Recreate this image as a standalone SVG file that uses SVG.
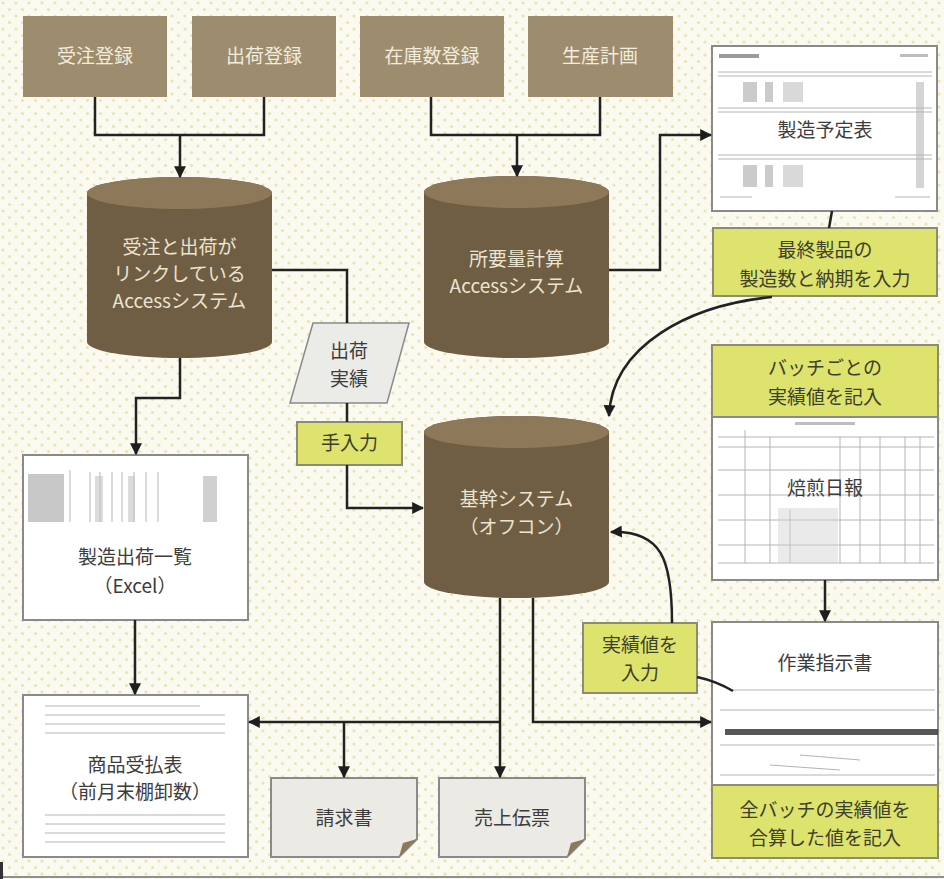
<svg xmlns="http://www.w3.org/2000/svg" width="944" height="879" viewBox="0 0 944 879">
<defs>
<pattern id="dots" x="0" y="0" width="13" height="13" patternUnits="userSpaceOnUse">
<rect width="13" height="13" fill="#fbfaf0"/>
<circle cx="3" cy="3" r="1.6" fill="#e9e5b2"/>
<circle cx="9.5" cy="9.5" r="1.6" fill="#e9e5b2"/>
</pattern>
<marker id="ah" viewBox="0 0 10 10" refX="9" refY="5" markerWidth="12" markerHeight="12" markerUnits="userSpaceOnUse" orient="auto">
<path d="M0,0 L10,5 L0,10 z" fill="#1e1e1e"/>
</marker>
<style>
.t{font-family:"Noto Sans CJK JP","Noto Sans",sans-serif;font-size:19px;text-anchor:middle}
.tb{fill:#9e8c6f}
.tbt{fill:#f2ecdc}
.cyl{fill:#6f5e43}
.cyltop{fill:#8d7959}
.cylt{fill:#ece4d0}
.doc{fill:#ffffff;stroke:#8a8a8a;stroke-width:2}
.doct{fill:#3c3c3c}
.yel{fill:#dde36c;stroke:#8c8c74;stroke-width:2}
.yelt{fill:#3e402c}
.gray{fill:#eceae5;stroke:#8a8a8a;stroke-width:2}
.c{fill:none;stroke:#222;stroke-width:2.5}
.ca{fill:none;stroke:#222;stroke-width:2.5;marker-end:url(#ah)}
.tl{stroke:#b4b4b4;stroke-width:1;fill:none}
.tk{fill:#bdbdbd}
</style>
</defs>
<rect x="0" y="0" width="944" height="879" fill="url(#dots)"/>
<line x1="0" y1="877" x2="944" y2="877" stroke="#8f8f8f" stroke-width="2"/>
<rect x="0" y="862" width="3" height="17" fill="#333"/>

<g id="juchu-toroku"><rect class="tb" x="23" y="16" width="144" height="81"/><text class="t tbt" x="95" y="63">受注登録</text></g>
<g id="shukka-toroku"><rect class="tb" x="192" y="16" width="144" height="81"/><text class="t tbt" x="264" y="63">出荷登録</text></g>
<g id="zaiko-toroku"><rect class="tb" x="360" y="16" width="144" height="81"/><text class="t tbt" x="432" y="63">在庫数登録</text></g>
<g id="seisan-keikaku"><rect class="tb" x="528" y="16" width="145" height="81"/><text class="t tbt" x="600" y="63">生産計画</text></g>

<g id="access1">
<path class="cyl" d="M87 193 A92.5 16 0 0 1 272 193 V342 A92.5 16 0 0 1 87 342 Z"/>
<ellipse class="cyltop" cx="179.5" cy="193" rx="92.5" ry="16"/>
<text class="t cylt" x="179.5" y="254">受注と出荷が</text>
<text class="t cylt" x="179.5" y="281">リンクしている</text>
<text class="t cylt" x="179.5" y="308">Accessシステム</text>
</g>
<g id="access2">
<path class="cyl" d="M424 192 A92.5 16 0 0 1 609 192 V342 A92.5 16 0 0 1 424 342 Z"/>
<ellipse class="cyltop" cx="516.5" cy="192" rx="92.5" ry="16"/>
<text class="t cylt" x="516.5" y="266">所要量計算</text>
<text class="t cylt" x="516.5" y="293">Accessシステム</text>
</g>
<g id="kikan">
<path class="cyl" d="M424 432 A92.5 16 0 0 1 609 432 V582 A92.5 16 0 0 1 424 582 Z"/>
<ellipse class="cyltop" cx="516.5" cy="432" rx="92.5" ry="16"/>
<text class="t cylt" x="516.5" y="506">基幹システム</text>
<text class="t cylt" x="516.5" y="534">（オフコン）</text>
</g>

<g id="shukka-jisseki">
<path d="M313 323 H409 L387 403 H290 Z" fill="#ebebe8" stroke="#8a8a8a" stroke-width="1.5"/>
<text class="t doct" x="349" y="358">出荷</text>
<text class="t doct" x="349" y="386">実績</text>
</g>
<g id="tenyuryoku">
<rect class="yel" x="297" y="422" width="105" height="43"/>
<text class="t yelt" x="349.5" y="450">手入力</text>
</g>

<g id="seizo-shukka-ichiran">
<rect class="doc" x="23" y="455" width="225" height="165"/>
<rect x="28" y="474" width="36" height="48" fill="#9a9a9a" opacity="0.55"/>
<g class="tl">
<line x1="70" y1="470" x2="70" y2="522"/><line x1="90" y1="472" x2="90" y2="522"/><line x1="100" y1="472" x2="100" y2="522"/>
<line x1="112" y1="472" x2="112" y2="522"/><line x1="122" y1="472" x2="122" y2="522"/><line x1="134" y1="472" x2="134" y2="522"/>
<line x1="146" y1="472" x2="146" y2="522"/><line x1="158" y1="472" x2="158" y2="522"/>
</g>
<rect x="95" y="476" width="8" height="46" fill="#c4c4c4" opacity="0.6"/>
<rect x="128" y="476" width="7" height="46" fill="#c4c4c4" opacity="0.6"/>
<rect x="203" y="476" width="14" height="46" fill="#b0b0b0" opacity="0.6"/>
<text class="t doct" x="135" y="564">製造出荷一覧</text>
<text class="t doct" x="135" y="593">（Excel）</text>
</g>

<g id="shohin-ukeharai">
<rect class="doc" x="23" y="695" width="225" height="162"/>
<g class="tl">
<line x1="45" y1="706" x2="200" y2="706"/><line x1="45" y1="715" x2="225" y2="715"/>
<line x1="45" y1="724" x2="225" y2="724"/><line x1="45" y1="733" x2="225" y2="733"/>
<line x1="45" y1="815" x2="225" y2="815"/><line x1="45" y1="824" x2="225" y2="824"/>
<line x1="45" y1="833" x2="225" y2="833"/><line x1="45" y1="842" x2="225" y2="842"/>
</g>
<text class="t doct" x="135" y="772">商品受払表</text>
<text class="t doct" x="135" y="799">（前月末棚卸数）</text>
</g>

<g id="seikyusho">
<path class="gray" d="M271 778 H417 V839 L399 857 H271 Z"/>
<path d="M417 839 L399 857 L403 843 Z" fill="#8d7959"/>
<text class="t doct" x="344" y="825">請求書</text>
</g>
<g id="uriage-denpyo">
<path class="gray" d="M439 778 H585 V839 L567 857 H439 Z"/>
<path d="M585 839 L567 857 L571 843 Z" fill="#8d7959"/>
<text class="t doct" x="512" y="825">売上伝票</text>
</g>

<g id="seizo-yoteihyo">
<rect class="doc" x="712" y="46" width="225" height="165"/>
<rect x="719" y="54" width="40" height="4" fill="#9a9a9a"/>
<rect x="900" y="54" width="28" height="3" fill="#bdbdbd"/>
<g class="tl">
<line x1="718" y1="72" x2="932" y2="72"/><line x1="718" y1="76" x2="932" y2="76"/>
<line x1="718" y1="108" x2="932" y2="108"/><line x1="718" y1="112" x2="932" y2="112"/>
<line x1="718" y1="155" x2="932" y2="155"/><line x1="718" y1="159" x2="932" y2="159"/>
<line x1="720" y1="197" x2="752" y2="197"/><line x1="895" y1="197" x2="930" y2="197"/>
</g>
<rect x="743" y="82" width="14" height="20" fill="#a8a8a8" opacity="0.6"/>
<rect x="765" y="82" width="8" height="20" fill="#a8a8a8" opacity="0.6"/>
<rect x="783" y="82" width="20" height="20" fill="#c0c0c0" opacity="0.6"/>
<rect x="743" y="165" width="14" height="22" fill="#a8a8a8" opacity="0.6"/>
<rect x="765" y="165" width="8" height="22" fill="#a8a8a8" opacity="0.6"/>
<rect x="783" y="165" width="20" height="22" fill="#c0c0c0" opacity="0.6"/>
<rect x="916" y="82" width="8" height="106" fill="#b8b8b8" opacity="0.6"/>
<text class="t doct" x="825" y="137" font-size="20">製造予定表</text>
</g>
<g id="saishu-seihin">
<rect class="yel" x="713" y="228" width="224" height="68"/>
<text class="t yelt" x="825" y="257">最終製品の</text>
<text class="t yelt" x="825" y="286">製造数と納期を入力</text>
</g>

<g id="batch-goto">
<rect class="yel" x="712" y="345" width="226" height="72"/>
<text class="t yelt" x="825" y="375">バッチごとの</text>
<text class="t yelt" x="825" y="404">実績値を記入</text>
</g>
<g id="baisen-nippo">
<rect class="doc" x="712" y="417" width="226" height="163"/>
<rect x="795" y="422" width="60" height="3" fill="#bdbdbd"/>
<g class="tl">
<line x1="718" y1="437" x2="934" y2="437"/><line x1="718" y1="447" x2="934" y2="447"/>
<line x1="718" y1="470" x2="934" y2="470"/><line x1="718" y1="495" x2="934" y2="495"/>
<line x1="718" y1="520" x2="934" y2="520"/><line x1="718" y1="545" x2="934" y2="545"/>
<line x1="718" y1="563" x2="934" y2="563"/>
<line x1="745" y1="430" x2="745" y2="563"/><line x1="770" y1="437" x2="770" y2="563"/>
<line x1="790" y1="510" x2="790" y2="563"/><line x1="840" y1="437" x2="840" y2="563"/>
<line x1="860" y1="437" x2="860" y2="563"/><line x1="880" y1="437" x2="880" y2="563"/>
<line x1="905" y1="437" x2="905" y2="563"/><line x1="920" y1="437" x2="920" y2="563"/>
</g>
<rect x="778" y="508" width="60" height="55" fill="#d0d0d0" opacity="0.45"/>
<text class="t doct" x="825" y="495" font-size="21">焙煎日報</text>
</g>

<g id="sagyo-shijisho">
<rect class="doc" x="712" y="622" width="226" height="163"/>
<g class="tl">
<line x1="730" y1="690" x2="935" y2="690"/><line x1="720" y1="710" x2="935" y2="710"/>
<line x1="720" y1="745" x2="935" y2="745"/><line x1="720" y1="775" x2="935" y2="775"/>
<line x1="800" y1="755" x2="860" y2="760"/><line x1="770" y1="765" x2="840" y2="770"/>
</g>
<rect x="725" y="729" width="213" height="6" fill="#3a3a3a" opacity="0.85"/>
<text class="t doct" x="825" y="670" font-size="20">作業指示書</text>
</g>
<g id="zen-batch">
<rect class="yel" x="712" y="785" width="226" height="73"/>
<text class="t yelt" x="825" y="817">全バッチの実績値を</text>
<text class="t yelt" x="825" y="845">合算した値を記入</text>
</g>

<g id="jisseki-nyuryoku">
<rect class="yel" x="583" y="623" width="114" height="70"/>
<text class="t yelt" x="640" y="652">実績値を</text>
<text class="t yelt" x="640" y="680">入力</text>
</g>

<g id="connectors">
<path class="c" d="M95 97 V135 H264 V97"/>
<path class="ca" d="M180 135 V177"/>
<path class="c" d="M431 97 V135 H600 V97"/>
<path class="ca" d="M517 135 V176"/>
<path class="c" d="M272 270 H347 V323"/>
<path class="c" d="M347 403 V422"/>
<path class="ca" d="M347 465 V508 H423"/>
<path class="ca" d="M180 358 V398 H136 V454"/>
<path class="ca" d="M135 620 V694"/>
<path class="ca" d="M609 270 H660 V135 H711"/>
<path class="c" d="M832 211 L829 228"/>
<path class="ca" d="M772 297 C 690 305, 612 345, 609 416"/>
<path class="ca" d="M825 580 V621"/>
<path class="ca" d="M672 623 C 672 560, 662 530, 611 532"/>
<path class="c" d="M697 677 Q 716 681 733 691"/>
<path class="ca" d="M500 598 V777"/>
<path class="ca" d="M500 722 H249"/>
<path class="ca" d="M344 722 V777"/>
<path class="ca" d="M533 598 V722 H711"/>
</g>
</svg>
